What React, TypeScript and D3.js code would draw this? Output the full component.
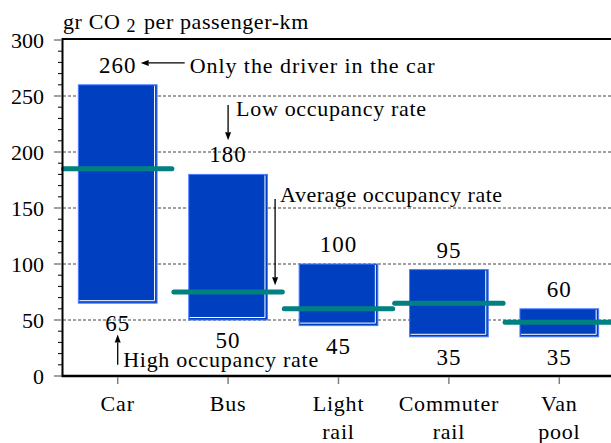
import React from "react";
import * as d3 from "d3";

const categories = ["Car", "Bus", "Light rail", "Commuter rail", "Van pool"];
const categoryLines = [["Car"], ["Bus"], ["Light", "rail"], ["Commuter", "rail"], ["Van", "pool"]];
const highValues = [260, 180, 100, 95, 60];
const lowValues = [65, 50, 45, 35, 35];
const averageValues = [185, 75, 60, 65, 48];
const yTicks = [0, 50, 100, 150, 200, 250, 300];
const titleMain = "gr CO";
const titleSub = "2";
const titleRest = "per passenger-km";
const annotationTexts = [
  "Only the driver in the car",
  "Low occupancy rate",
  "Average occupancy rate",
  "High occupancy rate",
];

const W = 611;
const H = 443;
const FONT = '"Liberation Serif", "Times New Roman", Times, Tinos, "DejaVu Serif", serif';
const BAR_FILL = "#0040c0";
const BAR_EDGE = "#4d7dff";
const TEAL = "#008080";

function Arrow({ x1, y1, x2, y2 }: { x1: number; y1: number; x2: number; y2: number }) {
  const ang = Math.atan2(y2 - y1, x2 - x1);
  const len = 8;
  const hw = 3;
  const bx = x2 - len * Math.cos(ang);
  const by = y2 - len * Math.sin(ang);
  const px = -Math.sin(ang) * hw;
  const py = Math.cos(ang) * hw;
  return (
    <g>
      <line x1={x1} y1={y1} x2={bx} y2={by} stroke="#000" strokeWidth={1.3} />
      <path d={`M${x2},${y2}L${bx + px},${by + py}L${bx - px},${by - py}Z`} fill="#000" />
    </g>
  );
}

export default function App() {
  const x = d3.scaleBand().domain(categories).range([62.5, 614.5]).paddingInner(0).paddingOuter(0);
  const y = d3.scaleLinear().domain([0, 300]).range([376, 40]);
  const bw = x.bandwidth();
  const barW = bw * 0.713;
  const cx = (c: string) => (x(c) as number) + bw / 2;
  const minorTicks = d3.range(0, 301, 10).filter((v) => v % 50 !== 0);

  const carC = cx(categories[0]);
  const busC = cx(categories[1]);
  const ts = { fontFamily: FONT };

  return (
    <svg width={W} height={H} fontFamily={FONT} style={{ position: "absolute", left: 0, top: 0, fontFamily: FONT }}>
      {yTicks
        .filter((v) => v > 0 && v < 300)
        .map((v) => (
          <line key={"g" + v} x1={63} x2={W} y1={y(v)} y2={y(v)} stroke="#444" strokeWidth={1} strokeDasharray="3,2" />
        ))}

      {categories.map((c, i) => {
        const bx = (x(c) as number) + (bw - barW) / 2;
        const top = y(highValues[i]);
        const bot = y(lowValues[i]);
        const h = bot - top;
        return (
          <g key={"b" + c}>
            <rect x={bx} y={top} width={barW} height={h} fill={BAR_FILL} stroke={BAR_EDGE} strokeWidth={1} />
            <polyline
              points={`${bx + barW - 2.5},${top + 1} ${bx + barW - 2.5},${bot - 2.5} ${bx + 1},${bot - 2.5}`}
              fill="none"
              stroke="#fff"
              strokeWidth={1}
            />
          </g>
        );
      })}

      {categories.map((c, i) => (
        <line
          key={"a" + c}
          x1={(x(c) as number) + 1}
          x2={(x(c) as number) + bw - 1}
          y1={y(averageValues[i])}
          y2={y(averageValues[i])}
          stroke={TEAL}
          strokeWidth={5}
          strokeLinecap="round"
        />
      ))}

      <line x1={62.5} x2={W} y1={39} y2={39} stroke="#000" strokeWidth={2} />
      <line x1={62.5} x2={62.5} y1={38} y2={377} stroke="#000" strokeWidth={2} />
      <line x1={61.5} x2={W} y1={376} y2={376} stroke="#000" strokeWidth={2.5} />

      {yTicks.map((v) => (
        <line key={"t" + v} x1={54} x2={61.5} y1={y(v)} y2={y(v)} stroke="#808080" strokeWidth={1.5} />
      ))}
      {minorTicks.map((v) => (
        <line key={"m" + v} x1={58} x2={62} y1={y(v)} y2={y(v)} stroke="#000" strokeWidth={1} />
      ))}
      {yTicks.map((v) => (
        <text key={"l" + v} x={44} y={y(v) + 7.5} textAnchor="end" fontSize={22} style={ts}>
          {String(v)}
        </text>
      ))}

      {categories.map((c, i) => (
        <g key={"x" + c}>
          <line x1={cx(c)} x2={cx(c)} y1={377} y2={384} stroke="#808080" strokeWidth={1.5} />
          {categoryLines[i].map((ln, j) => (
            <text key={j} x={cx(c)} y={410.5 + j * 28} textAnchor="middle" fontSize={22} letterSpacing={0.8} style={ts}>
              {ln}
            </text>
          ))}
        </g>
      ))}

      {categories.map((c, i) => (
        <g key={"v" + c}>
          <text x={cx(c)} y={y(highValues[i]) - 12} textAnchor="middle" fontSize={23} letterSpacing={1} style={ts}>
            {String(highValues[i])}
          </text>
          <text x={cx(c)} y={y(lowValues[i]) + 28} textAnchor="middle" fontSize={23} letterSpacing={1} style={ts}>
            {String(lowValues[i])}
          </text>
        </g>
      ))}

      <text x={63} y={28.5} fontSize={22} letterSpacing={0.6} style={ts}>
        {titleMain}
        <tspan fontSize={18} dx={6} dy={3.5}>
          {titleSub}
        </tspan>
        <tspan fontSize={22} dx={8} dy={-3.5}>
          {titleRest}
        </tspan>
      </text>

      <Arrow x1={carC + 67} y1={y(279.5)} x2={carC + 23} y2={y(279.5)} />
      <text x={carC + 72} y={73} fontSize={22} textLength={245} lengthAdjust="spacing" style={ts}>
        {annotationTexts[0]}
      </text>

      <Arrow x1={busC} y1={y(242)} x2={busC} y2={y(210.5)} />
      <text x={busC + 8} y={116} fontSize={22} textLength={190} lengthAdjust="spacing" style={ts}>
        {annotationTexts[1]}
      </text>

      <Arrow x1={busC + 47} y1={y(158)} x2={busC + 47} y2={y(81)} />
      <text x={busC + 52} y={201.5} fontSize={22} textLength={222} lengthAdjust="spacing" style={ts}>
        {annotationTexts[2]}
      </text>

      <Arrow x1={carC} y1={y(10)} x2={carC} y2={y(37)} />
      <text x={carC + 5.5} y={366.5} fontSize={22} textLength={195} lengthAdjust="spacing" style={ts}>
        {annotationTexts[3]}
      </text>
    </svg>
  );
}
